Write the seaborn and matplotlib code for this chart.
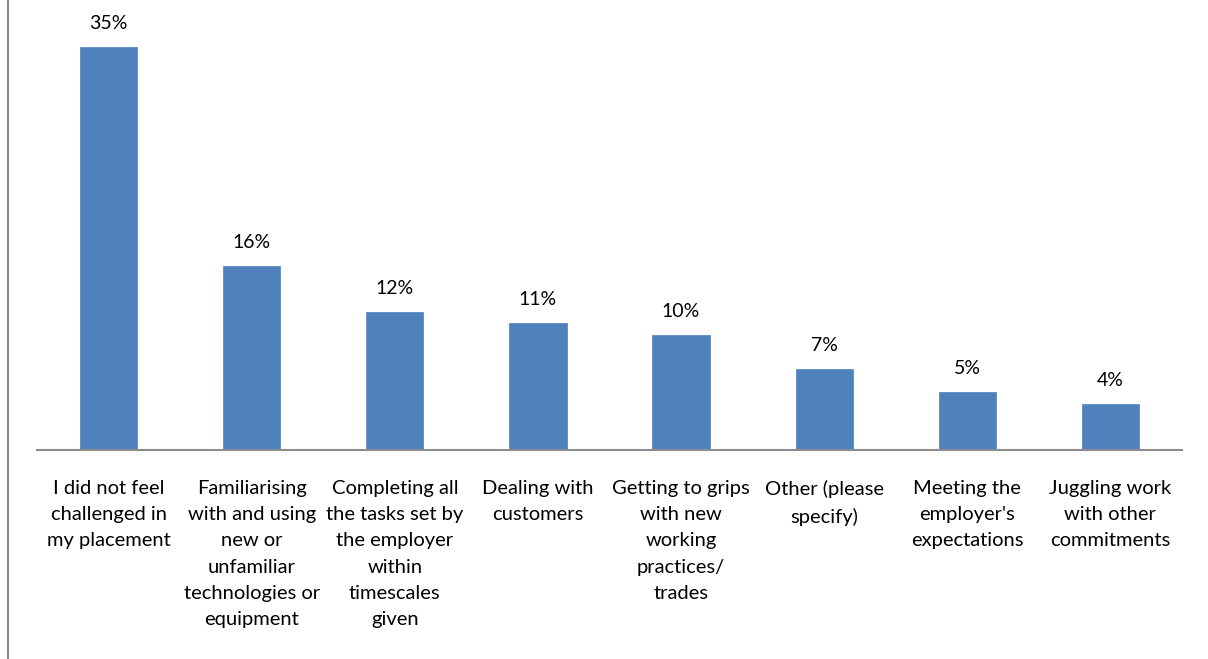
import matplotlib
matplotlib.use("Agg")
import matplotlib.pyplot as plt
import seaborn as sns
import pandas as pd

categories = [
    "I did not feel\nchallenged in\nmy placement",
    "Familiarising\nwith and using\nnew or\nunfamiliar\ntechnologies or\nequipment",
    "Completing all\nthe tasks set by\nthe employer\nwithin\ntimescales\ngiven",
    "Dealing with\ncustomers",
    "Getting to grips\nwith new\nworking\npractices/\ntrades",
    "Other (please\nspecify)",
    "Meeting the\nemployer's\nexpectations",
    "Juggling work\nwith other\ncommitments",
]
values = [35, 16, 12, 11, 10, 7, 5, 4]
value_labels = ["35%", "16%", "12%", "11%", "10%", "7%", "5%", "4%"]

df = pd.DataFrame({"category": categories, "value": values})

sns.set_theme(style="white")
plt.rcParams["font.family"] = ["Lato", "DejaVu Sans"]

W, H = 1208, 659
fig = plt.figure(figsize=(W / 100, H / 100), dpi=100)
ax = fig.add_axes([37 / W, 1 - 450 / H, (1182 - 37) / W, 440 / H])

sns.barplot(data=df, x="category", y="value", color="#4F81BD", width=0.4,
            saturation=1, ax=ax, edgecolor="#4F81BD", linewidth=0.5)

ax.set_ylim(0, 440 / 11.51)
ax.set_xlim(-0.5, len(categories) - 0.5)
ax.set_xlabel("")
ax.set_ylabel("")
ax.set_yticks([])
for side in ["top", "right", "left"]:
    ax.spines[side].set_visible(False)
ax.spines["bottom"].set_color("#8C8C8C")
ax.spines["bottom"].set_linewidth(1.5)
ax.tick_params(axis="x", length=0, pad=21.5)
ax.set_xticks(range(len(categories)))
ax.set_xticklabels(categories, fontsize=14.5, color="#000000",
                   linespacing=1.66, va="top")

for i, (v, lab) in enumerate(zip(values, value_labels)):
    ax.annotate(lab, (i, v), xytext=(0, 11), textcoords="offset points",
                ha="center", va="bottom", fontsize=14, color="#000000")

# outer frame edge on the left
fig.add_artist(plt.Line2D([8 / W, 8 / W], [0, 1], color="#8C8C8C",
                          linewidth=1.5, transform=fig.transFigure))

fig.savefig("out.png", dpi=100, facecolor="white")
